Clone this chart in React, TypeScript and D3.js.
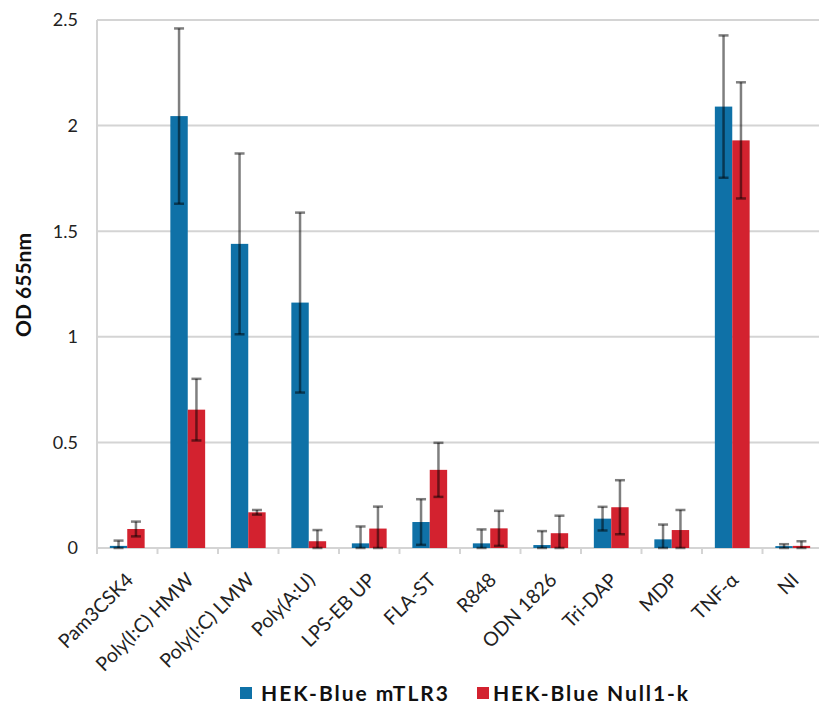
import React from "react";
import * as d3 from "d3";

const categories = ["Pam3CSK4", "Poly(I:C) HMW", "Poly(I:C) LMW", "Poly(A:U)", "LPS-EB UP", "FLA-ST", "R848", "ODN 1826", "Tri-DAP", "MDP", "TNF-α", "NI"];
const seriesNames = ["HEK-Blue mTLR3", "HEK-Blue Null1-k"];
const mTLR3 = [0.01, 2.045, 1.44, 1.162, 0.022, 0.123, 0.022, 0.014, 0.139, 0.041, 2.09, 0.009];
const mTLR3Err = [0.025, 0.415, 0.428, 0.426, 0.08, 0.108, 0.066, 0.066, 0.056, 0.07, 0.337, 0.009];
const null1k = [0.09, 0.655, 0.169, 0.032, 0.092, 0.37, 0.093, 0.07, 0.193, 0.085, 1.93, 0.01];
const null1kErr = [0.035, 0.146, 0.011, 0.053, 0.104, 0.128, 0.083, 0.083, 0.128, 0.095, 0.275, 0.022];
const yTicks = [0, 0.5, 1, 1.5, 2, 2.5];
const colors = ["#0f71a7", "#d3222f"];

export default function App() {
  const W = 819, H = 706;
  const x0 = 97, plotTop = 20, plotBottom = 548;
  const x = d3.scaleBand<string>().domain(categories).range([x0, x0 + 60.5 * categories.length]);
  const y = d3.scaleLinear().domain([0, 2.5]).range([plotBottom, plotTop]);
  const barW = 17.4;
  const series = [
    { vals: mTLR3, errs: mTLR3Err, color: colors[0] },
    { vals: null1k, errs: null1kErr, color: colors[1] },
  ];
  const font = "Lato, 'Open Sans', sans-serif";
  return (
    <svg width={W} height={H} style={{ position: "absolute", left: 0, top: 0, background: "#fff" }} fontFamily={font}>
      {yTicks.map((t) => (
        <g key={t}>
          <line x1={x0} x2={W} y1={y(t)} y2={y(t)} stroke="#d4d4d4" strokeWidth={2} />
          <text x={78} y={y(t)} dy="0.35em" textAnchor="end" fontSize={18} fill="#222">{t}</text>
        </g>
      ))}
      <line x1={x0} x2={x0} y1={plotTop} y2={plotBottom} stroke="#d4d4d4" strokeWidth={2} />
      {categories.map((c, i) => (
        <line key={"tk" + i} x1={x(c)!} x2={x(c)!} y1={plotBottom} y2={plotBottom + 6} stroke="#d4d4d4" strokeWidth={2} />
      ))}
      {series.map((s, si) =>
        categories.map((c, i) => {
          const cx = x(c)! + x.bandwidth() / 2;
          const bx = si === 0 ? cx - barW : cx;
          return (
            <rect key={"b" + si + i} x={bx} y={y(s.vals[i])} width={barW} height={plotBottom - y(s.vals[i])} fill={s.color} />
          );
        })
      )}
      {series.map((s, si) =>
        categories.map((c, i) => {
          const cx = x(c)! + x.bandwidth() / 2;
          const mx = si === 0 ? cx - barW / 2 : cx + barW / 2;
          const lo = y(Math.max(0, s.vals[i] - s.errs[i]));
          const hi = y(s.vals[i] + s.errs[i]);
          return (
            <g key={"e" + si + i} stroke="rgba(0,0,0,0.5)" strokeWidth={2.5}>
              <line x1={mx} x2={mx} y1={lo} y2={hi} />
              <line x1={mx - 5} x2={mx + 5} y1={hi} y2={hi} />
              <line x1={mx - 5} x2={mx + 5} y1={lo} y2={lo} />
            </g>
          );
        })
      )}
      {categories.map((c, i) => {
        const cx = x(c)! + x.bandwidth() / 2;
        return (
          <text key={"l" + i} transform={`translate(${cx - 3},${plotBottom + 23}) rotate(-45)`} textAnchor="end" dy="0.75em" fontSize={19.5} fill="#222">{c}</text>
        );
      })}
      <text transform={`translate(31,285) rotate(-90)`} textAnchor="middle" fontSize={21} fontWeight="bold" fill="#111">OD 655nm</text>
      <rect x={240} y={687} width={12} height={12} fill={colors[0]} />
      <text x={261} y={701} fontSize={21} fontWeight="bold" fill="#111" textLength={187}>{seriesNames[0]}</text>
      <rect x={477} y={687} width={12} height={12} fill={colors[1]} />
      <text x={493} y={701} fontSize={21} fontWeight="bold" fill="#111" textLength={195}>{seriesNames[1]}</text>
    </svg>
  );
}
